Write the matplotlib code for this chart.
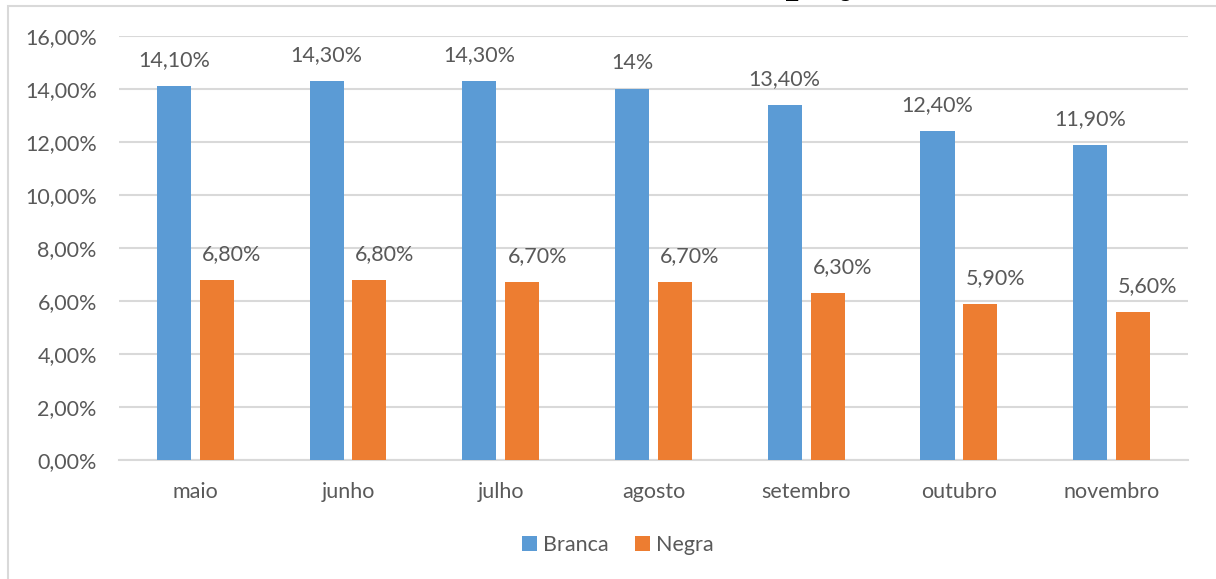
import numpy as np
import matplotlib.pyplot as plt
from matplotlib.patches import Rectangle
from matplotlib.ticker import FuncFormatter

plt.rcParams['font.family'] = ['Lato', 'DejaVu Sans']

# ---------------------------------------------------------
# Data
# ---------------------------------------------------------
months = ["maio", "junho", "julho", "agosto", "setembro", "outubro", "novembro"]
branca = [14.1, 14.3, 14.3, 14.0, 13.4, 12.4, 11.9]
negra = [6.8, 6.8, 6.7, 6.7, 6.3, 5.9, 5.6]
branca_labels = ["14,10%", "14,30%", "14,30%", "14%", "13,40%", "12,40%", "11,90%"]
negra_labels = ["6,80%", "6,80%", "6,70%", "6,70%", "6,30%", "5,90%", "5,60%"]

BLUE = "#5B9BD5"
ORANGE = "#ED7D31"
GREY = "#595959"
GRID = "#D9D9D9"
FS = 15.5

# ---------------------------------------------------------
# Figure
# ---------------------------------------------------------
fig = plt.figure(figsize=(12.16, 5.79), dpi=100)
ax = fig.add_axes([0.0979, 0.2055, 0.879, 0.7323])

# outer chart frame (cut at right/bottom edge)
fig.patches.append(Rectangle((8 / 1216, -0.1), 1.2, 1.1 - 6 / 579,
                             transform=fig.transFigure, fill=False,
                             edgecolor=GRID, linewidth=1.5))

# title, mostly outside the top edge as in the source image
fig.text(692 / 1216, 1.0 + 9 / 579, "Taxa de desocupação", ha="center", va="baseline",
         fontsize=34, fontweight="bold", family="Liberation Serif", color="black")

x = np.arange(len(months))
width = 0.223
off = 0.14

ax.bar(x - off, branca, width, color=BLUE, label="Branca", zorder=3)
ax.bar(x + off, negra, width, color=ORANGE, label="Negra", zorder=3)

for i in range(len(months)):
    ax.annotate(branca_labels[i], (x[i] - off, branca[i]), xytext=(0, 18.7),
                textcoords="offset points", ha="center", va="center",
                fontsize=FS, color=GREY)
    ax.annotate(negra_labels[i], (x[i] + off, negra[i]), xytext=(10.8, 18.7),
                textcoords="offset points", ha="center", va="center",
                fontsize=FS, color=GREY)

ax.set_xlim(-0.5, len(months) - 0.5)
ax.set_ylim(0, 16)
ax.set_yticks(np.arange(0, 17, 2))
ax.yaxis.set_major_formatter(FuncFormatter(lambda v, p: f"{v:.2f}%".replace(".", ",")))
ax.set_xticks(x)
ax.set_xticklabels(months)

ax.grid(axis="y", color=GRID, linewidth=1.5, zorder=0)
for s in ["top", "right", "left"]:
    ax.spines[s].set_visible(False)
ax.spines["bottom"].set_color(GRID)
ax.spines["bottom"].set_linewidth(1.5)
ax.tick_params(axis="both", length=0, colors=GREY, labelsize=FS)
ax.tick_params(axis="y", pad=16)
ax.tick_params(axis="x", pad=16)

fig.legend(loc="center", bbox_to_anchor=(0.508, 0.059), ncol=2, frameon=False,
           fontsize=FS, labelcolor=GREY, handlelength=0.7, handleheight=0.7,
           handletextpad=0.3, columnspacing=1.2)

fig.savefig("out.png", dpi=100)
